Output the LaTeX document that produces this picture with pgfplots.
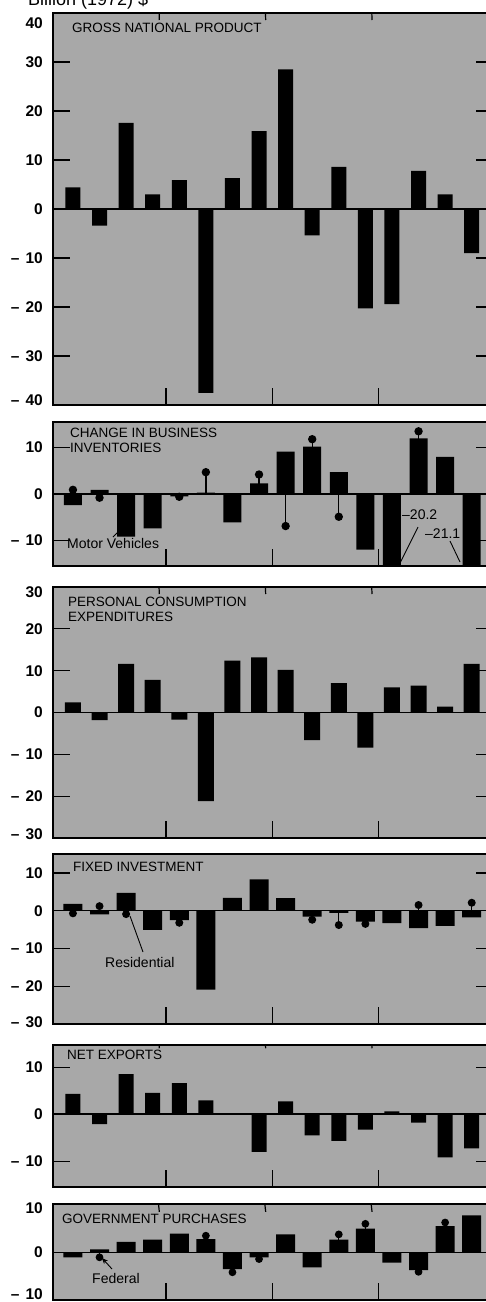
\documentclass[border=0pt]{standalone}
\usepackage{fontspec}
\setmainfont{Liberation Sans}
\usepackage{pgfplots}
\pgfplotsset{compat=1.18}
\usetikzlibrary{arrows.meta}
\definecolor{stip}{gray}{0.66}
\newcommand{\mn}{\textendash\hspace{6pt}}
\pgfplotsset{
  panel/.style={
    scale only axis, width=440pt, xmin=0.25, xmax=16.8,
    anchor=north west,
    axis background/.style={fill=stip},
    axis line style={line width=1.6pt, black},
    axis on top,
    tick align=inside, major tick length=17pt,
    major tick style={line width=1.2pt, black},
    xtick={4.5,8.5,12.5}, xticklabels={}, xtick pos=left,
    ytick pos=both, yticklabel pos=left,
    yticklabel style={font=\fontsize{15.5}{15.5}\selectfont\bfseries, inner sep=0pt, xshift=-10pt},
    extra y tick style={major tick length=0pt},
    clip=true,
  },
  bars/.style={ybar, bar shift=0pt, fill=black, draw=none, bar width=#1},
  pops/.style={ycomb, black, line width=1.3pt, mark=*, mark size=#1, mark options={fill=black}},
}
\newcommand{\zl}{%
  \addplot[black, line width=1.5pt, forget plot] coordinates {(0.25,0) (16.8,0)};
  \draw[line width=1.2pt] (axis cs:4.5,0) ++(0,-7pt) -- ++(0,14pt);
  \draw[line width=1.2pt] (axis cs:8.5,0) ++(0,-7pt) -- ++(0,14pt);
  \draw[line width=1.2pt] (axis cs:12.5,0) ++(0,-7pt) -- ++(0,14pt);
}
\tikzset{ttl/.style={anchor=west, inner sep=0pt, font=\fontsize{13.5}{14}\selectfont},
         ann/.style={anchor=west, inner sep=0pt, font=\fontsize{14}{14}\selectfont}}
\begin{document}
\begin{tikzpicture}
% 1 GNP
\begin{axis}[panel, at={(53pt,-13pt)}, height=392pt, ymin=-40, ymax=40,
  ytick={-30,-20,-10,0,10,20,30}, yticklabels={\mn30,\mn20,\mn10,0,10,20,30},
  extra y ticks={-39,37.9}, extra y tick labels={\mn40,40}]
\addplot[bars=15pt] coordinates {(1,4.4) (2,-3.4) (3,17.6) (4,3.0) (5,5.9) (6,-37.5) (7,6.3) (8,15.9) (9,28.5) (10,-5.4) (11,8.6) (12,-20.3) (13,-19.4) (14,7.8) (15,3.0) (16,-9.0)};
\zl
\end{axis}
% 2 Inventories
\begin{axis}[panel, at={(53pt,-422pt)}, height=144pt, ymin=-15.5, ymax=15.5,
  ytick={-10,0,10}, yticklabels={\mn10,0,10}]
\addplot[bars=18pt] coordinates {(1,-2.4) (2,0.9) (3,-9.2) (4,-7.4) (5,-0.5) (6,0.3) (7,-6.1) (8,2.3) (9,9.1) (10,10.2) (11,4.7) (12,-12.0) (13,-20.2) (14,12.0) (15,8.0) (16,-21.1)};
\zl
\addplot[pops=3.5pt] coordinates {(1,0.9) (2,-0.8) (5,-0.6) (6,4.7) (8,4.2) (9,-6.9) (10,11.8) (11,-4.9) (14,13.5)};
\end{axis}
% 3 PCE
\begin{axis}[panel, at={(53pt,-587pt)}, height=251pt, ymin=-30, ymax=30,
  ytick={-20,-10,0,10,20}, yticklabels={\mn20,\mn10,0,10,20},
  extra y ticks={-29.1,28.8}, extra y tick labels={\mn30,30}]
\addplot[bars=16pt] coordinates {(1,2.4) (2,-1.8) (3,11.6) (4,7.8) (5,-1.7) (6,-21.2) (7,12.4) (8,13.2) (9,10.2) (10,-6.6) (11,7.0) (12,-8.4) (13,6.0) (14,6.4) (15,1.4) (16,11.6)};
\zl
\end{axis}
% 4 Fixed investment
\begin{axis}[panel, at={(53pt,-854pt)}, height=170pt, ymin=-30, ymax=15,
  ytick={-20,-10,0,10}, yticklabels={\mn20,\mn10,0,10},
  extra y ticks={-29.5}, extra y tick labels={\mn30}]
\addplot[bars=19pt] coordinates {(1,1.8) (2,-1.0) (3,4.7) (4,-5.1) (5,-2.5) (6,-20.9) (7,3.4) (8,8.3) (9,3.3) (10,-1.6) (11,-0.6) (12,-2.9) (13,-3.3) (14,-4.6) (15,-4.0) (16,-1.8)};
\zl
\addplot[pops=3.3pt] coordinates {(1,-0.7) (2,1.2) (3,-0.9) (5,-3.2) (10,-2.4) (11,-3.8) (12,-3.5) (14,1.5) (16,2.1)};
\end{axis}
% 5 Net exports
\begin{axis}[panel, at={(53pt,-1045pt)}, height=142pt, ymin=-15.5, ymax=14.7,
  ytick={-10,0,10}, yticklabels={\mn10,0,10}]
\addplot[bars=15pt] coordinates {(1,4.3) (2,-2.1) (3,8.5) (4,4.5) (5,6.6) (6,2.9) (7,0.2) (8,-8.0) (9,2.7) (10,-4.5) (11,-5.7) (12,-3.3) (13,0.6) (14,-1.8) (15,-9.2) (16,-7.3)};
\zl
\end{axis}
% 6 Government purchases
\begin{axis}[panel, at={(53pt,-1204pt)}, height=96pt, ymin=-10.8, ymax=11,
  ytick={0}, yticklabels={0},
  extra y ticks={-9.5,10.1}, extra y tick labels={\mn10,10}]
\addplot[bars=19pt] coordinates {(1,-1.1) (2,0.7) (3,2.4) (4,2.9) (5,4.3) (6,3.0) (7,-3.8) (8,-1.1) (9,4.1) (10,-3.4) (11,2.9) (12,5.4) (13,-2.3) (14,-4.0) (15,6.0) (16,8.4)};
\zl
\addplot[pops=3.2pt] coordinates {(2,-1.1) (6,3.8) (7,-4.5) (8,-1.5) (11,4.1) (12,6.5) (14,-4.4) (15,6.8)};
\end{axis}
% texts
\node[anchor=base west, inner sep=0pt, font=\fontsize{18}{18}\selectfont] at (28pt,-5pt) {Billion (1972) \$};
\node[ttl] at (72pt,-28pt) {GROSS NATIONAL PRODUCT};
\node[ttl] at (70pt,-433pt) {CHANGE IN BUSINESS};
\node[ttl] at (70pt,-448pt) {INVENTORIES};
\node[ttl] at (68pt,-602pt) {PERSONAL CONSUMPTION};
\node[ttl] at (68pt,-617pt) {EXPENDITURES};
\node[ttl] at (73pt,-867pt) {FIXED INVESTMENT};
\node[ttl] at (67pt,-1055pt) {NET EXPORTS};
\node[ttl] at (62pt,-1219pt) {GOVERNMENT PURCHASES};
\node[ann] at (67pt,-543.5pt) {Motor Vehicles};
\draw[line width=0.9pt] (113pt,-537pt) -- (123pt,-527pt);
\node[ann] at (402pt,-515pt) {\textendash20.2};
\draw[line width=0.9pt] (418pt,-527pt) -- (400pt,-563pt);
\node[ann] at (425pt,-534pt) {\textendash21.1};
\draw[line width=0.9pt] (450pt,-541pt) -- (460pt,-562pt);
\node[ann] at (105pt,-962.7pt) {Residential};
\draw[line width=0.9pt] (130pt,-916pt) -- (143pt,-952pt);
\node[ann] at (92pt,-1278pt) {Federal};
\draw[line width=0.9pt, -{Stealth[length=6pt,width=5pt]}] (112pt,-1269pt) -- (102pt,-1258pt);
\pgfresetboundingbox
\useasboundingbox (0,0) rectangle (485pt,-1302pt);
\end{tikzpicture}
\end{document}
